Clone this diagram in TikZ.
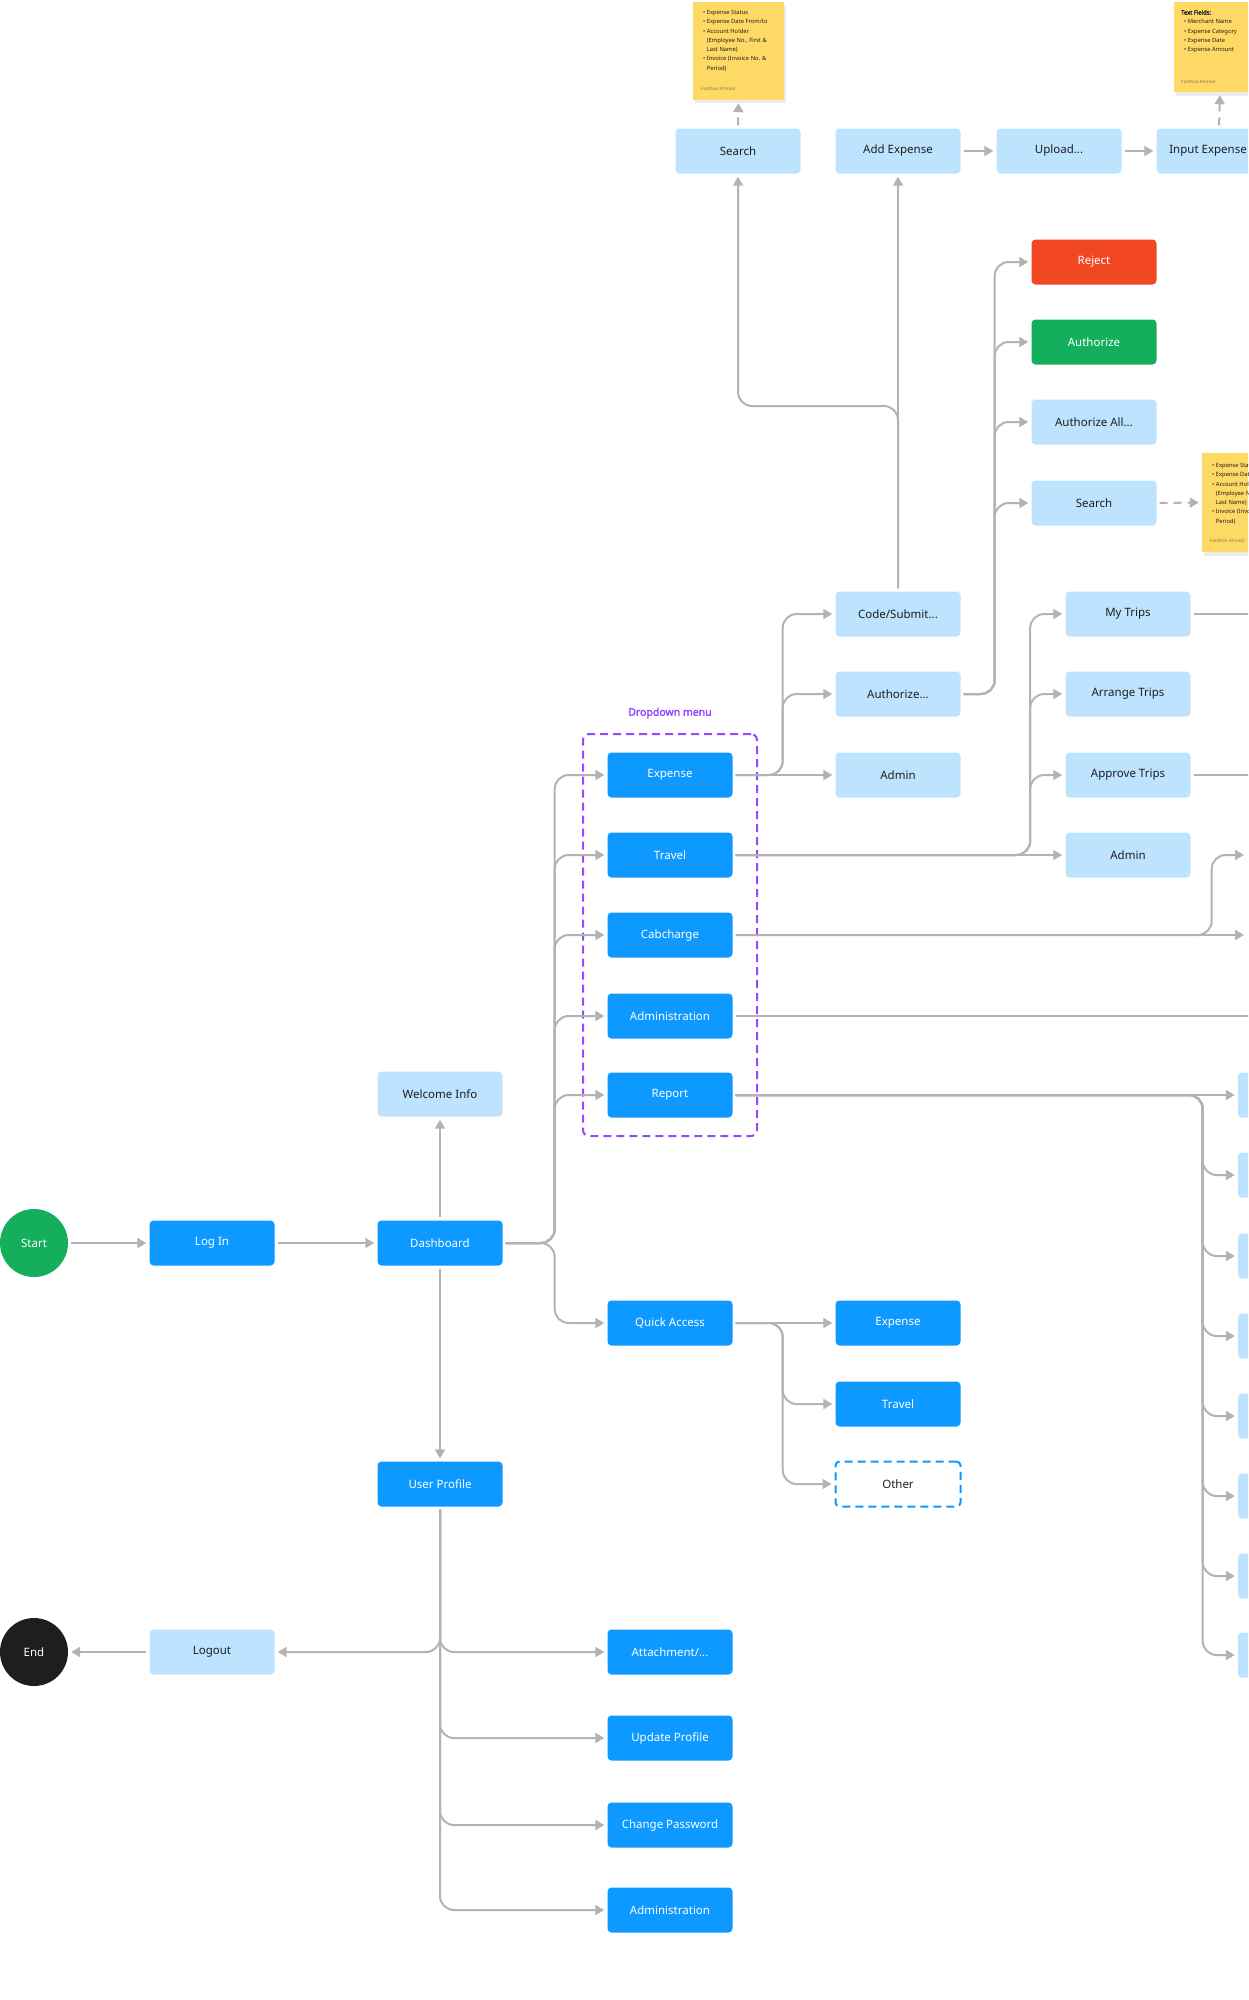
\documentclass[tikz,border=0pt]{standalone}
\usepackage{fontspec}
\setmainfont{Noto Sans}
\newfontfamily\heavyfont{Noto Sans}[FakeBold=2.5]
\usetikzlibrary{arrows.meta,calc}
\definecolor{figblue}{HTML}{0D99FF}
\definecolor{figlight}{HTML}{BDE3FF}
\definecolor{figtext}{HTML}{1E1E1E}
\definecolor{figgray}{HTML}{B3B3B3}
\definecolor{figred}{HTML}{F24822}
\definecolor{figgreen}{HTML}{14AE5C}
\definecolor{figpurple}{HTML}{9747FF}
\definecolor{sticky}{HTML}{FFD966}
\definecolor{authorgray}{HTML}{8A7A4A}
\begin{document}
\begin{tikzpicture}[x=1pt,y=-1pt,
  box/.style={rounded corners=4pt, minimum width=125pt, minimum height=45pt, inner sep=0pt, font=\fontsize{11.5}{13}\selectfont},
  dk/.style={box, fill=figblue, text=white},
  lt/.style={box, fill=figlight, text=figtext},
  rd/.style={box, fill=figred, text=white},
  gr/.style={box, fill=figgreen, text=white},
  dotted box/.style={box, fill=white, text=figtext, draw=figblue, line width=2pt, dash pattern=on 8pt off 5pt},
  term/.style={circle, minimum size=68pt, inner sep=0pt, text=white, font=\fontsize{11.5}{13}\selectfont},
  notebox/.style={fill=sticky, inner sep=0pt},
  notetext/.style={anchor=north west, inner sep=0pt, align=left, text=figtext, font=\fontsize{5.8}{9.3}\selectfont},
  noteauthor/.style={anchor=west, inner sep=0pt, text=authorgray, font=\fontsize{4.5}{5}\selectfont},
  conn/.style={draw=figgray, line width=2pt, rounded corners=14pt, -{Triangle[length=9pt,width=10pt]}, shorten >=3pt, shorten <=3pt},
  plain/.style={draw=figgray, line width=2pt, rounded corners=14pt, shorten <=3pt},
  dconn/.style={conn, dash pattern=on 8pt off 6pt}
]
\useasboundingbox (0,0) rectangle (1248,2000);
\clip (0,0) rectangle (1248,2000);
\fill[white] (0,0) rectangle (1248,2000);

% ---------- main column ----------
\node[term, fill=figgreen] (start) at (34,1243) {Start};
\node[dk] (login) at (212,1243) {Log In};
\node[dk] (dash) at (440,1243) {Dashboard};
\node[lt] (welcome) at (440,1094) {Welcome Info};
\node[dk] (uprof) at (440,1484) {User Profile};
\node[term, fill=figtext] (endn) at (34,1652) {End};
\node[lt] (logout) at (212,1652) {Logout};
\node[dk] (attach) at (670,1652) {Attachment/...};
\node[dk] (updprof) at (670,1738) {Update Profile};
\node[dk] (chpw) at (670,1825) {Change Password};
\node[dk] (admbot) at (670,1910) {Administration};

% ---------- quick access ----------
\node[dk] (qa) at (670,1323) {Quick Access};
\node[dk] (qaexp) at (898,1323) {Expense};
\node[dk] (qatrv) at (898,1404) {Travel};
\node[dotted box] (other) at (898,1484) {Other};

% ---------- dropdown ----------
\node[draw=figpurple, line width=2pt, dash pattern=on 8pt off 5pt, rounded corners=6pt, minimum width=174pt, minimum height=402pt, inner sep=0pt] (ddframe) at (670,935) {};
\node[text=figpurple, font=\heavyfont\fontsize{10.5}{12}\selectfont] (ddlabel) at (670,713) {Dropdown menu};
\node[dk] (ddexp) at (670,775) {Expense};
\node[dk] (ddtrv) at (670,855) {Travel};
\node[dk] (ddcab) at (670,935) {Cabcharge};
\node[dk] (ddadm) at (670,1016) {Administration};
\node[dk] (ddrep) at (670,1095) {Report};

% ---------- expense sub ----------
\node[lt] (code) at (898,614) {Code/Submit...};
\node[lt] (authz) at (898,694) {Authorize...};
\node[lt] (admexp) at (898,775) {Admin};
\node[rd] (reject) at (1094,262) {Reject};
\node[gr] (authorize) at (1094,342) {Authorize};
\node[lt] (authall) at (1094,422) {Authorize All...};
\node[lt] (search2) at (1094,503) {Search};

% ---------- travel sub ----------
\node[lt] (mytrips) at (1128,614) {My Trips};
\node[lt] (arrtrips) at (1128,694) {Arrange Trips};
\node[lt] (apptrips) at (1128,775) {Approve Trips};
\node[lt] (admtrv) at (1128,855) {Admin};

% ---------- top row ----------
\node[lt] (search1) at (738,151) {Search};
\node[lt] (addexp) at (898,151) {Add Expense};
\node[lt] (upload) at (1059,151) {Upload...};
\node[lt] (inputexp) at (1219,151) {};
\node[anchor=east, inner sep=0pt, text=figtext, font=\fontsize{11.5}{13}\selectfont] (inputexpt) at (1247,151) {Input Expense};

% ---------- report targets (off canvas) ----------
\foreach \i/\yy in {1/1095,2/1175,3/1256,4/1336,5/1416,6/1496,7/1576,8/1655}
  \node[lt] (rp\i) at (1300.5,\yy) {};

% ---------- sticky notes ----------
\fill[black!8] (695,5) rectangle (786,103);
\node[notebox, minimum width=91pt, minimum height=98pt] (note1) at (738.5,51) {};
\node[notetext] (note1t) at (703,10) {\textbullet\ Expense Status\\ \textbullet\ Expense Date From/to\\ \textbullet\ Account Holder\\ \phantom{\textbullet\ }(Employee No., First \&\\ \phantom{\textbullet\ }Last Name)\\ \textbullet\ Invoice (Invoice No. \&\\ \phantom{\textbullet\ }Period)};
\node[noteauthor] (note1a) at (701,89) {Fardhan Ahmed};

\fill[black!8] (1176,5) rectangle (1270,96);
\node[notebox, minimum width=92pt, minimum height=90pt] (note2) at (1220,47) {};
\node[notetext] (note2t) at (1181,10) {{\heavyfont Text Fields:}\\ \hspace{3pt}\textbullet\ Merchant Name\\ \hspace{3pt}\textbullet\ Expense Category\\ \hspace{3pt}\textbullet\ Expense Date\\ \hspace{3pt}\textbullet\ Expense Amount};
\node[noteauthor] (note2a) at (1181,82) {Fardhan Ahmed};

\fill[black!8] (1204,456) rectangle (1296,556);
\node[notebox, minimum width=92pt, minimum height=99pt] (note3) at (1248,502.5) {};
\node[notetext] (note3t) at (1212,463) {\textbullet\ Expense Status\\ \textbullet\ Expense Date From/to\\ \textbullet\ Account Holder\\ \phantom{\textbullet\ }(Employee No., First \&\\ \phantom{\textbullet\ }Last Name)\\ \textbullet\ Invoice (Invoice No. \&\\ \phantom{\textbullet\ }Period)};
\node[noteauthor] (note3a) at (1210,541) {Fardhan Ahmed};

% ---------- free ends at the right edge ----------
\coordinate (cabA) at (1247,935);
\coordinate (cabB) at (1247,855);
\coordinate (admEdge) at (1260,1016);
\coordinate (myEdge) at (1260,614);
\coordinate (appEdge) at (1260,775);
\coordinate (csplit) at (898,406);

% ---------- connectors ----------
\draw[conn] (start) -- (login);
\draw[conn] (login) -- (dash);
\draw[conn] (dash) -- (welcome);
\draw[conn] (dash) -- (uprof);

\foreach \t in {ddexp,ddtrv,ddcab,ddadm,ddrep,qa}
  \draw[conn] (dash.east) -- ++(52,0) |- (\t.west);

% user profile
\draw[conn] (uprof.south) |- (logout.east);
\foreach \t in {attach,updprof,chpw,admbot}
  \draw[conn] (uprof.south) |- (\t.west);
\draw[conn] (logout) -- (endn);

% quick access
\draw[conn] (qa) -- (qaexp);
\draw[conn] (qa.east) -- ++(50,0) |- (qatrv.west);
\draw[conn] (qa.east) -- ++(50,0) |- (other.west);

% expense
\draw[conn] (ddexp) -- (admexp);
\draw[conn] (ddexp.east) -- ++(50,0) |- (code.west);
\draw[conn] (ddexp.east) -- ++(50,0) |- (authz.west);
\draw[conn] (code.north) -- (addexp.south);
\draw[conn] (code.north) -- (csplit) -| (search1.south);
\foreach \t in {reject,authorize,authall,search2}
  \draw[conn] (authz.east) -- ++(34,0) |- (\t.west);

% top row
\draw[conn] (addexp) -- (upload);
\draw[conn] (upload) -- (inputexp);
\draw[dconn] (search1.north) -- (note1.south);
\draw[dconn] (inputexp.north) -- (note2.south);
\draw[dconn] (search2.east) -- (note3.west);

% travel
\draw[conn] (ddtrv) -- (admtrv);
\foreach \t in {mytrips,arrtrips,apptrips}
  \draw[conn] (ddtrv.east) -- ++(297.5,0) |- (\t.west);
\draw[plain] (mytrips.east) -- (myEdge);
\draw[plain] (apptrips.east) -- (appEdge);

% cabcharge
\draw[conn] (ddcab.east) -- (cabA);
\draw[conn] (ddcab.east) -- ++(479,0) |- (cabB);

% administration
\draw[plain] (ddadm.east) -- (admEdge);

% report
\draw[conn] (ddrep) -- (rp1);
\foreach \i in {2,...,8}
  \draw[conn] (ddrep.east) -- ++(470,0) |- (rp\i.west);
\end{tikzpicture}
\end{document}
